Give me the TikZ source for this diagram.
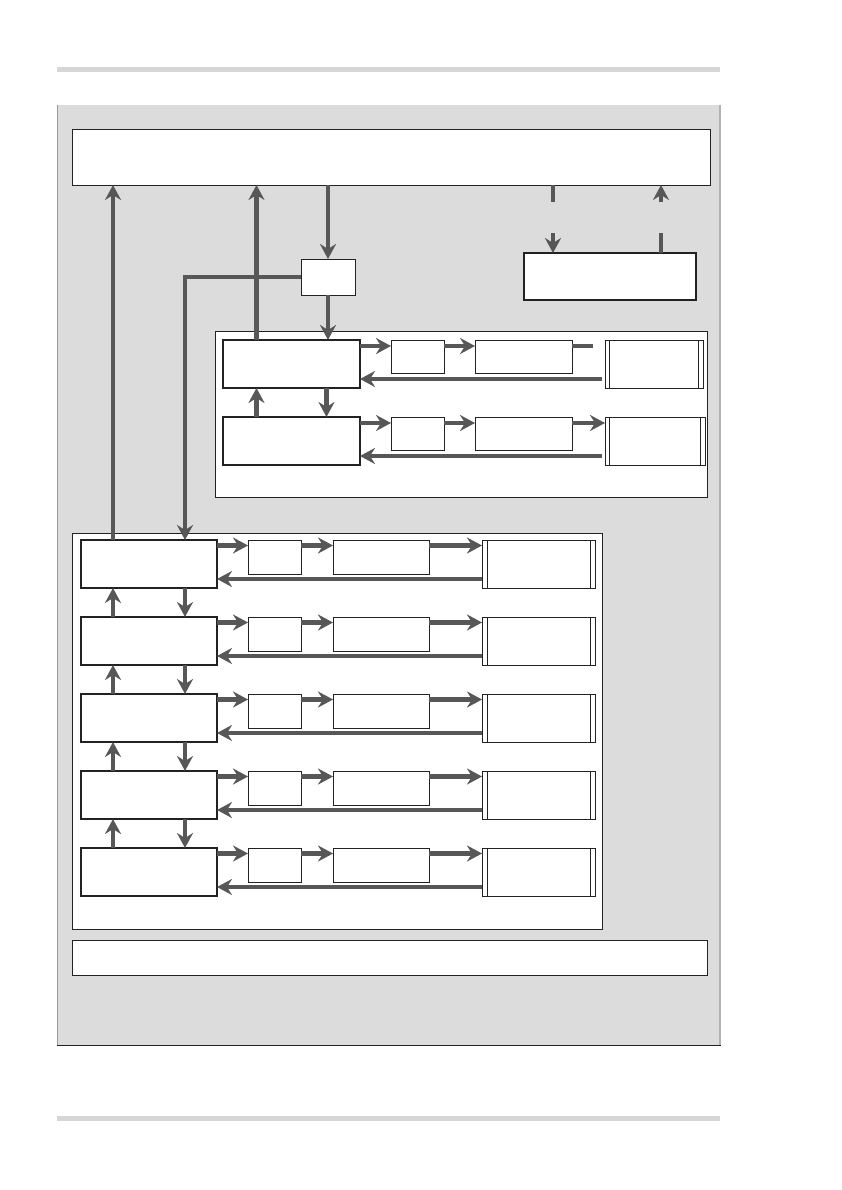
\documentclass[tikz,border=0pt]{standalone}
\usepackage{tikz}
\usetikzlibrary{arrows.meta,positioning,calc}
\definecolor{arrowgray}{HTML}{575757}
\definecolor{panelgray}{HTML}{DCDCDC}
\definecolor{rulegray}{HTML}{D6D6D6}
\definecolor{linegray}{HTML}{222222}

\begin{document}
\begin{tikzpicture}[
  x=1pt, y=-1pt,
  >={Stealth[length=15pt, width=16pt, inset=5pt]},
  box/.style={draw=linegray, line width=1pt, fill=white, anchor=north west,
              inner sep=0pt, outer sep=0pt},
  module/.style={box, line width=2pt, minimum width=137pt, minimum height=48pt},
  small/.style={box, minimum width=53pt, minimum height=33pt},
  mid/.style={box, minimum width=97pt, minimum height=33pt},
  dbox/.style={box, minimum height=48pt},
  group/.style={box, line width=0.8pt},
  flow/.style={draw=arrowgray, line width=4.5pt},
]
  \useasboundingbox (0,0) rectangle (842,1190);
  % Page rules and background panel
  \fill[rulegray] (57,67) rectangle (720,72);
  \fill[rulegray] (57,1116) rectangle (720,1121);
  \fill[panelgray] (57,105) rectangle (720,1045);
  \draw[gray!80, line width=0.8pt] (57,105) -- (57,1045);
  \draw[gray!60, line width=1.2pt] (720,105) -- (720,1045);
  \draw[linegray, line width=1pt] (57,1045) -- (720.6,1045);

  % Frames
  \node[group, minimum width=638pt, minimum height=56pt] (top) at (72,129) {};
  \node[group, minimum width=635pt, minimum height=35pt] (bottom) at (72,940) {};
  \node[group, minimum width=492pt, minimum height=166pt] (upper) at (215,331) {};
  \node[group, minimum width=530pt, minimum height=396pt] (lower) at (72,533) {};

  % Switch and external unit
  \node[box, minimum width=54pt, minimum height=36pt] (sw) at (301,259) {};
  \node[box, line width=2pt, minimum width=172pt, minimum height=47pt] (ext) at (524,253) {};

  % Upper group
  \foreach \r/\y/\w in {1/340/98, 2/417/100} {
    \node[module] (a\r) at (223,\y) {};
    \node[small] (ab\r) at (391,\y) {};
    \node[mid] (ac\r) at (475,\y) {};
    \node[dbox, minimum width=\w pt] (ad\r) at (605,\y) {};
    \draw[linegray, line width=1pt] ([xshift=4.5pt]ad\r.north west) -- ([xshift=4.5pt]ad\r.south west);
    \draw[linegray, line width=1pt] ([xshift=-4.5pt]ad\r.north east) -- ([xshift=-4.5pt]ad\r.south east);
    \draw[flow,->] ([yshift=-6pt]a\r.north east) -- ([yshift=-6pt]a\r.north east -| ab\r.west);
    \draw[flow,->] ([yshift=-6pt]ab\r.north east) -- ([yshift=-6pt]ab\r.north east -| ac\r.west);
    \draw[flow,<-] ([yshift=9pt]a\r.south east) -- ([yshift=9pt,xshift=-3pt]a\r.south east -| ad\r.west);
  }
  \draw[flow] ([yshift=-6pt]ac1.north east) -- ++(21,0);
  \draw[flow,->] ([yshift=-6pt]ac2.north east) -- ([yshift=-6pt]ac2.north east -| ad2.west);
  \draw[flow,->] ([xshift=-35pt]a2.north) -- ([xshift=-35pt]a1.south);
  \draw[flow,->] ([xshift=35pt]a1.south) -- ([xshift=35pt]a2.north);

  % Lower group
  \foreach \r [evaluate=\r as \y using 540+77*(\r-1)] in {1,...,5} {
    \node[module, minimum width=136pt] (m\r) at (81,\y) {};
    \node[small, minimum height=34pt] (mb\r) at (248,\y) {};
    \node[mid, minimum width=96pt, minimum height=34pt] (mc\r) at (333,\y) {};
    \node[dbox, minimum width=113pt] (md\r) at (482,\y) {};
    \draw[linegray, line width=1pt] ([xshift=5pt]md\r.north west) -- ([xshift=5pt]md\r.south west);
    \draw[linegray, line width=1pt] ([xshift=-5pt]md\r.north east) -- ([xshift=-5pt]md\r.south east);
    \draw[flow,->] ([yshift=-5.5pt]m\r.north east) -- ([yshift=-5.5pt]m\r.north east -| mb\r.west);
    \draw[flow,->] ([yshift=-5.5pt]mb\r.north east) -- ([yshift=-5.5pt]mb\r.north east -| mc\r.west);
    \draw[flow,->] ([yshift=-5.5pt]mc\r.north east) -- ([yshift=-5.5pt]mc\r.north east -| md\r.west);
    \draw[flow,<-] ([yshift=9pt]m\r.south east) -- ([yshift=9pt]m\r.south east -| md\r.west);
  }
  \foreach \r [evaluate=\r as \n using int(\r+1)] in {1,...,4} {
    \draw[flow,->] ([xshift=-36pt]m\n.north) -- ([xshift=-36pt]m\r.south);
    \draw[flow,->] ([xshift=36pt]m\r.south) -- ([xshift=36pt]m\n.north);
  }

  % Links to the top frame
  \draw[flow,->] ([xshift=-36pt]m1.north) -- ([xshift=-36pt]m1.north |- top.south);
  \draw[flow,->] ([xshift=-35pt]a1.north) -- ([xshift=-35pt]a1.north |- top.south);
  \draw[flow,->] (top.south -| sw.north) -- (sw.north);
  \draw[flow,->] (sw.south) -- (sw.south |- a1.north);
  \draw[flow,->] (sw.west) -| ([xshift=36pt]m1.north);

  % Broken links to the external unit
  \coordinate (outA) at (553,202);
  \coordinate (inA) at (553,233);
  \coordinate (outB) at (661,233);
  \coordinate (inB) at (661,202);
  \draw[flow] (top.south -| outA) -- (outA);
  \draw[flow,->] (inA) -- (inA |- ext.north);
  \draw[flow] (ext.north -| outB) -- (outB);
  \draw[flow,->] (inB) -- (inB |- top.south);
\end{tikzpicture}
\end{document}
